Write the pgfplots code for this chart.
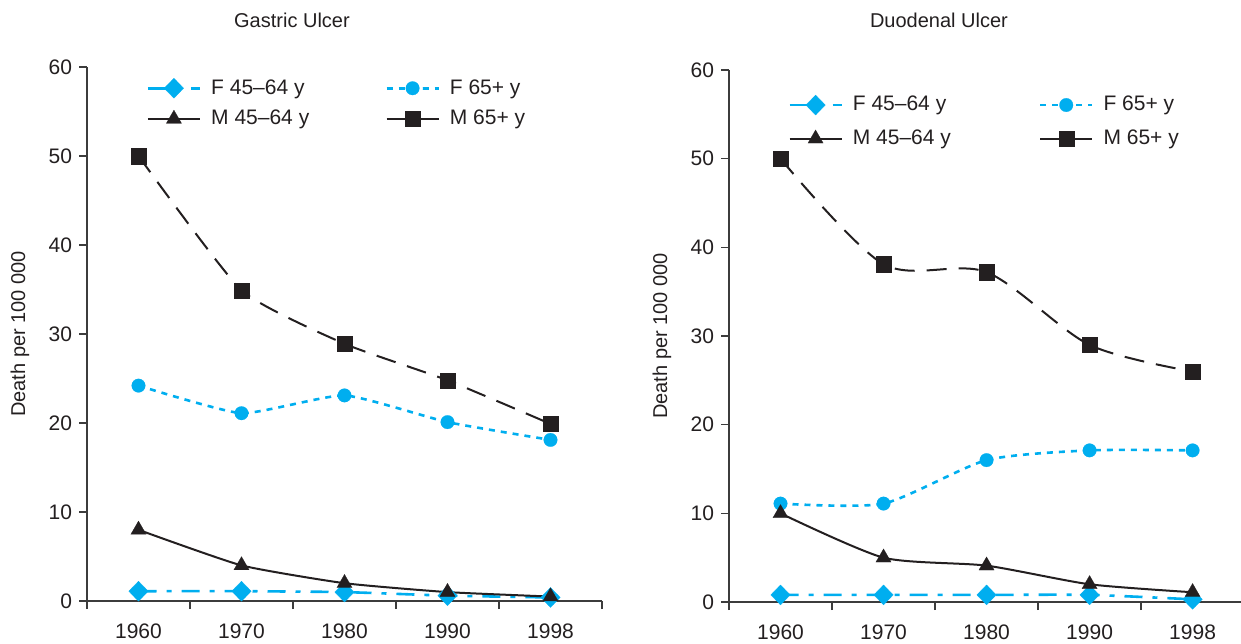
\documentclass[border=0pt]{standalone}
\usepackage{pgfplots}
\pgfplotsset{compat=1.18}
\usepackage{fontspec}
\setmainfont{Liberation Sans}
\definecolor{cy}{RGB}{0,174,239}
\definecolor{bk}{RGB}{35,31,32}
\definecolor{ax}{RGB}{60,60,60}
\pgfplotsset{
  base/.style={
    scale only axis,
    clip=false,
    axis x line*=bottom, axis y line*=left,
    axis line style={ax, line width=0.6pt, -},
    xmin=-0.5, ymin=0, ymax=60,
    xtick={0,1,2,3,4},
    xticklabels={1960,1970,1980,1990,1998},
    minor xtick={-0.5,0.5,1.5,2.5,3.5,4.5},
    major x tick style={draw=none},
    ytick={0,10,20,30,40,50,60},
    tick align=outside,
    major tick length=4pt, minor tick length=4pt,
    tick style={ax, line width=0.6pt},
    /pgf/number format/assume math mode=true,
    ticklabel style={font=\fontsize{10.5}{12}\selectfont, text=bk},
    xticklabel style={yshift=-4pt},
    ylabel={Death per 100 000},
    ylabel style={font=\fontsize{10}{12}\selectfont, text=bk, anchor=center, rotate=0},
    title style={font=\fontsize{10}{12}\selectfont, text=bk, anchor=center},
    legend columns=2,
    legend cell align=left,
    legend style={draw=none, fill=none, inner sep=0pt, anchor=north west,
      font=\fontsize{10.5}{12}\selectfont, text=bk,
      /tikz/every odd column/.append style={column sep=3pt}},
    legend image code/.code={\draw[mark repeat=2,mark phase=2] plot coordinates {(0pt,0pt) (13pt,0pt) (26pt,0pt)};},
  },
  f45/.style={cy, line width=1.3pt, dash pattern=on 9pt off 5pt on 2.5pt off 5pt, mark=diamond*, mark size=5pt, mark options={solid, fill=cy, draw=cy, line width=0.1pt, xscale=1.3}},
  f65/.style={cy, line width=1.3pt, dash pattern=on 3pt off 3pt, mark=*, mark size=3.4pt, mark options={solid, fill=cy, draw=cy, line width=0.1pt}},
  m45/.style={bk, line width=1pt, solid, mark=triangle*, mark size=4.4pt, mark options={solid, fill=bk, draw=bk, line width=0.1pt}},
  m65/.style={bk, line width=1pt, dash pattern=on 10pt off 6pt, mark=square*, mark size=3.8pt, mark options={solid, fill=bk, draw=bk, line width=0.1pt}},
}
\begin{document}
\begin{tikzpicture}
\useasboundingbox (0,0) rectangle (620.5pt,321.5pt);
% Gastric Ulcer
\begin{axis}[base,
  at={(43.5pt,21pt)}, anchor=south west,
  width=257.5pt, height=267pt,
  xmax=4.5,
  title={Gastric Ulcer},
  title style={at={(axis description cs:0.398,1.0655)}},
  ylabel style={at={(axis description cs:-0.130,0.5)}},
  legend style={at={(axis description cs:0.115,0.985)},
    /tikz/every even column/.append style={column sep=36pt},
    row sep=2.5pt},
]
\addplot[f45, smooth, tension=0.3] coordinates {(0,1.1) (1,1.1) (2,1.0) (3,0.6) (4,0.4)};
\addlegendentry{F 45--64 y}
\addplot[f65, smooth, tension=0.3] coordinates {(0,24.2) (1,21.1) (2,23.1) (3,20.1) (4,18.1)};
\addlegendentry{F 65+ y}
\addplot[m45, smooth, tension=0.3] coordinates {(0,8) (1,4) (2,2) (3,1) (4,0.5)};
\addlegendentry{M 45--64 y}
\addplot[m65, smooth, tension=0.3] coordinates {(0,50) (1,34.9) (2,28.9) (3,24.8) (4,19.9)};
\addlegendentry{M 65+ y}
\end{axis}
% Duodenal Ulcer
\begin{axis}[base,
  at={(364.5pt,20.5pt)}, anchor=south west,
  width=256pt, height=266pt,
  xmax=4.47,
  title={Duodenal Ulcer},
  title style={at={(axis description cs:0.41,1.0715)}},
  ylabel style={at={(axis description cs:-0.131,0.5)}},
  legend style={at={(axis description cs:0.115,0.959)},
    /tikz/every even column/.append style={column sep=42pt},
    row sep=4pt},
]
\addplot[f45, smooth, tension=0.4] coordinates {(0,0.8) (1,0.8) (2,0.8) (3,0.8) (4,0.3)};
\addlegendentry{F 45--64 y}
\addplot[f65, smooth, tension=0.4] coordinates {(0,11.1) (1,11.1) (2,16.0) (3,17.1) (4,17.1)};
\addlegendentry{F 65+ y}
\addplot[m45, smooth, tension=0.4] coordinates {(0,10) (1,5) (2,4.1) (3,2) (4,1.1)};
\addlegendentry{M 45--64 y}
\addplot[m65, smooth, tension=0.5] coordinates {(0,50) (1,38.1) (2,37.2) (3,29) (4,26)};
\addlegendentry{M 65+ y}
\end{axis}
\end{tikzpicture}
\end{document}
